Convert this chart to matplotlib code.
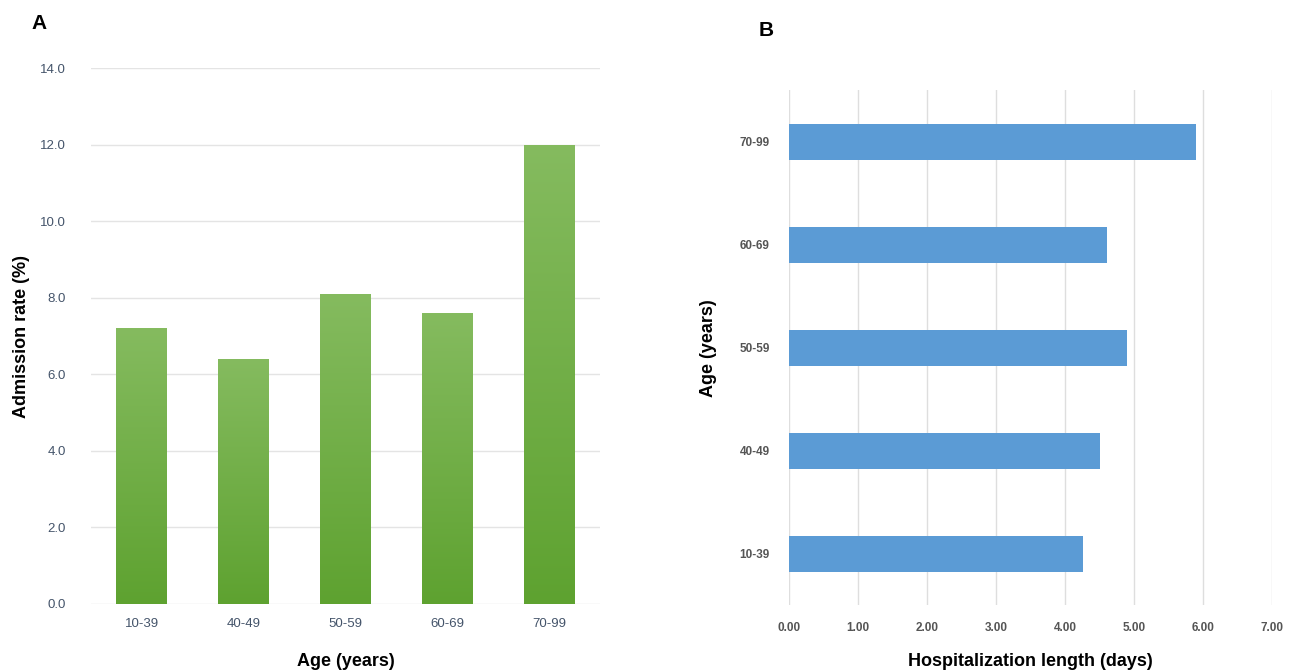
import numpy as np
import matplotlib
matplotlib.use('Agg')
import matplotlib.pyplot as plt
from matplotlib.colors import LinearSegmentedColormap

# panel A data
ageGroups = ['10-39', '40-49', '50-59', '60-69', '70-99']
admissionRate = [7.2, 6.4, 8.1, 7.6, 12.0]
admissionTicks = [0, 2, 4, 6, 8, 10, 12, 14]

# panel B data
hospLength = [4.26, 4.5, 4.9, 4.61, 5.9]
lengthTicks = [0, 1, 2, 3, 4, 5, 6, 7]

plt.rcParams['font.family'] = ['Liberation Sans', 'DejaVu Sans']

fig = plt.figure(figsize=(12.96, 6.72), dpi=100)

# --- A: vertical bars with green gradient ---
axA = fig.add_axes([0.0702, 0.1012, 0.3927, 0.7976])
greens = LinearSegmentedColormap.from_list('gr', ['#5ea230', '#85bb5f'])
grad = np.linspace(0, 1, 256).reshape(-1, 1)
bars = axA.bar(range(len(ageGroups)), admissionRate, width=0.5, color='none', zorder=3)
for b in bars:
    x0, w, h = b.get_x(), b.get_width(), b.get_height()
    # each bar goes dark at the base to light at its own top
    im = axA.imshow(grad, extent=[x0, x0 + w, 0, h], origin='lower', cmap=greens,
                    aspect='auto', zorder=3)
    im.set_clip_path(b)
axA.set_xlim(-0.5, 4.5)
axA.set_ylim(0, 14)
axA.set_yticks(admissionTicks)
axA.set_yticklabels(['%.1f' % t for t in admissionTicks])
axA.set_xticks(range(len(ageGroups)))
axA.set_xticklabels(ageGroups)
axA.grid(axis='y', color='#e4e4e4', linewidth=1, zorder=0)
axA.set_axisbelow(True)
for s in axA.spines.values():
    s.set_visible(False)
axA.tick_params(length=0, labelsize=9.5, labelcolor='#44546a')
axA.tick_params(axis='y', pad=18)
axA.tick_params(axis='x', pad=10)
axA.set_ylabel('Admission rate (%)', fontsize=13, fontweight='bold', labelpad=7)
axA.set_xlabel('Age (years)', fontsize=13, fontweight='bold', labelpad=17)
fig.text(0.024, 0.965, 'A', fontsize=15, fontweight='bold', va='center')

# --- B: horizontal bars ---
axB = fig.add_axes([0.6088, 0.0997, 0.3727, 0.766])
axB.barh(range(len(ageGroups)), hospLength, height=0.35, color='#5b9bd5', zorder=3)
axB.set_xlim(0, 7)
axB.set_ylim(-0.5, 4.5)
axB.set_xticks(lengthTicks)
axB.set_xticklabels(['%.2f' % t for t in lengthTicks])
axB.set_yticks(range(len(ageGroups)))
axB.set_yticklabels(ageGroups)
axB.grid(axis='x', color='#dedede', linewidth=1, zorder=0)
axB.set_axisbelow(True)
for s in axB.spines.values():
    s.set_visible(False)
axB.tick_params(length=0, labelsize=8.5, labelcolor='#555555')
for lbl in axB.get_xticklabels() + axB.get_yticklabels():
    lbl.set_fontweight('bold')
axB.tick_params(axis='y', pad=14)
axB.tick_params(axis='x', pad=12)
axB.set_xlabel('Hospitalization length (days)', fontsize=13, fontweight='bold', labelpad=14)
axB.set_ylabel('Age (years)', fontsize=13, fontweight='bold', labelpad=16)
fig.text(0.585, 0.955, 'B', fontsize=15, fontweight='bold', va='center')

fig.savefig('out.png', dpi=100)
